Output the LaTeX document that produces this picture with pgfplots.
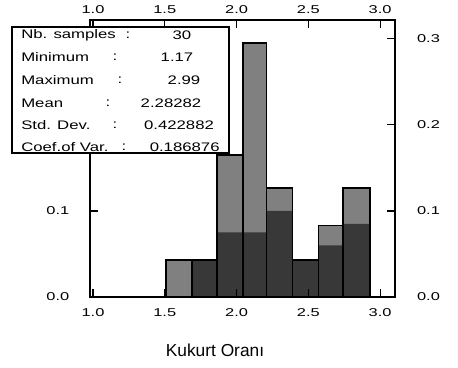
\documentclass[border=0pt]{standalone}
\usepackage{fontspec}
\setmainfont{Liberation Sans}
\newfontfamily\statfont[FakeStretch=1.35]{Liberation Sans}
\newfontfamily\tickfont[FakeStretch=1.45]{Liberation Sans}
\usepackage{pgfplots}
\pgfplotsset{compat=1.18}
\begin{document}
\begin{tikzpicture}
\useasboundingbox (0,0) rectangle (343.5pt,276pt);
\pgfplotsset{
  common/.style={
    at={(67.5pt,53.25pt)}, anchor=south west,
    scale only axis, width=228.75pt, height=207.75pt,
    xmin=0.979, xmax=3.104, ymin=0, ymax=0.322,
    xtick={1.0,1.5,2.0,2.5,3.0},
    ytick={0,0.1,0.2,0.3},
    tick align=inside, major tick length=6pt,
    axis line style={line width=1pt},
    every tick/.style={black, line width=0.8pt},
    /pgf/number format/assume math mode=true,
    /pgf/number format/.cd, fixed, fixed zerofill, precision=1,
    /tikz/.cd,
    ticklabel style={font=\tickfont\fontsize{8.5}{10}\selectfont},
  }
}
\begin{axis}[common,
  xticklabel pos=bottom, yticklabel pos=left,
  yticklabels={0.0,0.1,{},{}},
  xticklabel style={yshift=-5pt},
  yticklabel style={xshift=-12pt},
]
\addplot[ybar interval, fill=black!50, draw=none] coordinates {
 (1.51,0.043) (1.69,0.043) (1.865,0.165) (2.045,0.295) (2.21,0.127) (2.39,0.043) (2.57,0.083) (2.74,0.127) (2.93,0)};
\addplot[ybar interval, fill=black!78, draw=none] coordinates {
 (1.69,0.043) (1.865,0.075) (2.045,0.075) (2.21,0.10) (2.39,0.043) (2.57,0.06) (2.74,0.085) (2.93,0)};
\addplot[ybar interval, fill=none, draw=black, line width=1.2pt] coordinates {
 (1.51,0.043) (1.69,0.043) (1.865,0.165) (2.045,0.295) (2.21,0.127) (2.39,0.043) (2.57,0.083) (2.74,0.127) (2.93,0)};
\end{axis}
\begin{axis}[common,
  xticklabel pos=top, yticklabel pos=right,
  xticklabel style={yshift=1pt},
  yticklabel style={xshift=13pt},
]
\end{axis}
\draw[line width=0.9pt, fill=white] (9pt,161.25pt) rectangle (171.75pt,255.75pt);
\begin{scope}[every node/.style={font=\statfont\fontsize{9.3}{11}\selectfont, inner sep=0pt}]
\node[anchor=west] at (15.75pt,249.75pt) {Nb. samples};
\node[anchor=west] at (15.75pt,233.25pt) {Minimum};
\node[anchor=west] at (15.75pt,216pt) {Maximum};
\node[anchor=west] at (15.75pt,198.75pt) {Mean};
\node[anchor=west] at (15.75pt,182.25pt) {Std. Dev.};
\node[anchor=west] at (15.75pt,165.75pt) {Coef.of Var.};
\node at (96pt,249.75pt) {:};
\node at (86.25pt,233.25pt) {:};
\node at (90pt,216pt) {:};
\node at (81pt,198.75pt) {:};
\node at (86.25pt,182.25pt) {:};
\node at (93pt,165.75pt) {:};
\node at (136.5pt,249.75pt) {30};
\node at (132.75pt,233.25pt) {1.17};
\node at (138pt,216pt) {2.99};
\node at (128.25pt,198.75pt) {2.28282};
\node at (134.25pt,182.25pt) {0.422882};
\node at (138.5pt,165.75pt) {0.186876};
\end{scope}
\node[font=\fontsize{13}{15}\selectfont] at (161.25pt,13.5pt) {Kukurt Oranı};
\end{tikzpicture}
\end{document}
